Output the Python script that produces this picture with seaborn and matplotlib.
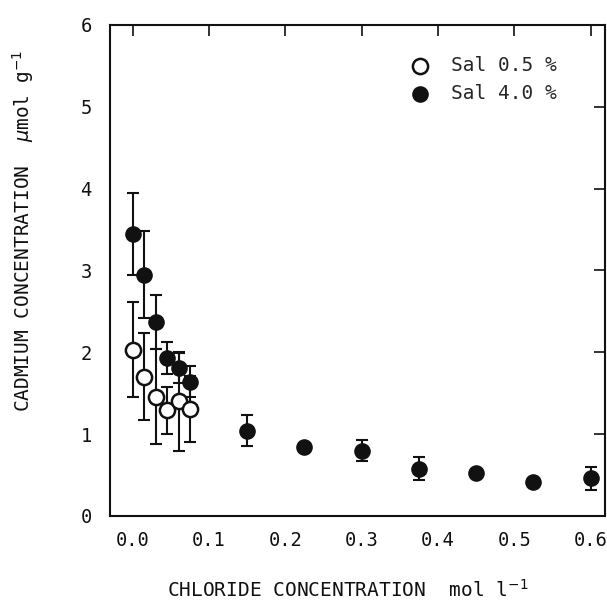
import numpy as np
import pandas as pd
import matplotlib
matplotlib.use("Agg")
import matplotlib.pyplot as plt
import seaborn as sns

# Data
x_low = [0.0, 0.015, 0.03, 0.045, 0.06, 0.075]
y_low = [2.03, 1.70, 1.46, 1.29, 1.40, 1.31]
e_low = [0.58, 0.53, 0.58, 0.29, 0.60, 0.40]

x_high = [0.0, 0.015, 0.03, 0.045, 0.06, 0.075, 0.15, 0.225, 0.30, 0.375, 0.45, 0.525, 0.60]
y_high = [3.45, 2.95, 2.37, 1.93, 1.81, 1.64, 1.04, 0.84, 0.80, 0.58, 0.52, 0.42, 0.46]
e_high = [0.50, 0.53, 0.33, 0.20, 0.18, 0.19, 0.19, 0.0, 0.13, 0.14, 0.0, 0.0, 0.14]

labels = ["Sal 0.5 %", "Sal 4.0 %"]
xticks = [0.0, 0.1, 0.2, 0.3, 0.4, 0.5, 0.6]
xticklabels = ["0.0", "0.1", "0.2", "0.3", "0.4", "0.5", "0.6"]
yticks = [0, 1, 2, 3, 4, 5, 6]

df = pd.concat([
    pd.DataFrame({"x": x_low, "y": y_low, "err": e_low, "series": labels[0]}),
    pd.DataFrame({"x": x_high, "y": y_high, "err": e_high, "series": labels[1]}),
], ignore_index=True)

sns.set_style("white")
plt.rcParams["font.family"] = ["DejaVu Sans Mono", "DejaVu Sans"]
plt.rcParams["mathtext.fontset"] = "dejavusans"

fig = plt.figure(figsize=(6.07, 6.04), dpi=100)
ax = fig.add_axes([0.181, 0.1457, 0.816, 0.813])

# error bars
for name in labels[::-1]:
    sub = df[df["series"] == name]
    err = sub["err"].where(sub["err"] > 0)
    ax.errorbar(sub["x"], sub["y"], yerr=err, fmt="none", ecolor="#111111",
                elinewidth=1.5, capsize=4.5, capthick=1.5, zorder=2)

# markers
high = df[df["series"] == labels[1]]
low = df[df["series"] == labels[0]]
sns.scatterplot(data=high, x="x", y="y", ax=ax, color="#111111", edgecolor="#111111",
                s=120, linewidth=1.0, zorder=3, label=labels[1])
sns.scatterplot(data=low, x="x", y="y", ax=ax, color="white", edgecolor="#111111",
                s=120, linewidth=1.8, zorder=4, label=labels[0])

ax.set_xlim(-0.03, 0.619)
ax.set_ylim(0, 6)
ax.set_xticks(xticks)
ax.set_xticklabels(xticklabels)
ax.set_yticks(yticks)
ax.tick_params(direction="in", length=8, width=1.2, top=True, right=True,
               labelsize=13.5, colors="#111111", pad=11)
ax.tick_params(axis="y", pad=13)
for sp in ax.spines.values():
    sp.set_linewidth(1.5)
    sp.set_color("#111111")

ax.set_xlabel(r"CHLORIDE CONCENTRATION  mol l$^{-1}$", fontsize=14,
              color="#111111")
ax.set_ylabel(r"CADMIUM CONCENTRATION  $\mu$mol g$^{-1}$", fontsize=14,
              color="#111111")
ax.xaxis.set_label_coords(0.48, -0.128)
ax.yaxis.set_label_coords(-0.15, 0.58)

handles, lbls = ax.get_legend_handles_labels()
order = [lbls.index(labels[0]), lbls.index(labels[1])]
ax.legend([handles[i] for i in order], [lbls[i] for i in order], frameon=False,
          loc="upper right", bbox_to_anchor=(0.925, 0.96), fontsize=14,
          handletextpad=0.55, borderaxespad=0.2, labelspacing=0.45)

fig.savefig("out.png", dpi=100)
